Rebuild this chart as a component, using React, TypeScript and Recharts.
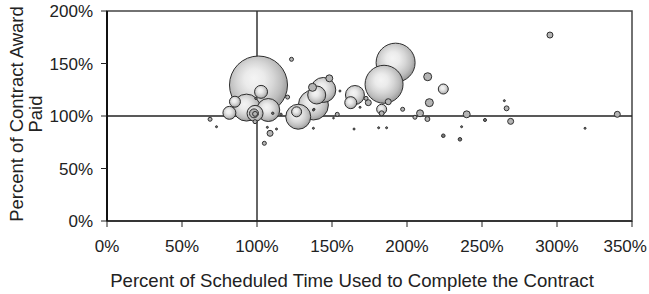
import React from 'react'
import {
  ScatterChart,
  Scatter,
  XAxis,
  YAxis,
  ZAxis,
  ReferenceLine,
  ReferenceArea,
  Label,
} from 'recharts'

// percent of scheduled time used
const timePct = [
  101, 192.4, 184.7, 137.6, 93, 144.2, 127.5, 107.5, 165.3, 139.8, 98.7, 81.6,
  102.7, 162.5, 85.3, 126.4, 224.2, 183.1, 98, 137, 213.8, 214.9, 148.2, 208.7,
  239.8, 295.3, 108.7, 174.2, 187.5, 269.1, 340.2, 266.4, 213.6, 98.7, 183.1,
  123, 104.9, 68.7, 98.7, 120.4, 172.7, 153.5, 197.1, 205.3, 224.2, 235.3, 252,
  73, 116, 110.5, 99.3, 113, 106.9, 137.6, 138, 155.3, 168.7, 137.6, 164.7,
  181.1, 186.4, 236.4, 318.7, 264.9, 151,
]

// percent of contract award paid
const paidPct = [
  129.5, 150.8, 130.2, 110.5, 108, 124.8, 99.3, 105.7, 120, 120, 102.5, 103,
  123, 112.7, 113.6, 104, 125.7, 106.4, 102.5, 127.3, 137.4, 112.7, 135.9,
  102.6, 101.6, 177.1, 83.5, 112.7, 113.6, 94.9, 101.6, 107.3, 97.1, 102,
  102.6, 154, 74, 96.9, 94.6, 118, 116.8, 101.6, 106.4, 98.8, 81.2, 77.8, 96.2,
  89.8, 101.6, 102.6, 116.8, 87.6, 89.2, 88.3, 106.4, 123.8, 108.3, 105.7,
  87.6, 88.8, 88.8, 89.8, 88.3, 114.6, 98,
]

// bubble size (relative contract award)
const awardSize = [
  841, 380, 361, 225, 182, 156, 156, 132, 90, 81, 64, 42, 42, 36, 30, 25, 25,
  25, 20, 16, 16, 16, 12, 12, 12, 9, 9, 9, 9, 9, 9, 6, 6, 6, 6, 4, 4, 4, 4, 4,
  4, 4, 4, 4, 3.2, 3.2, 2.3, 1, 1.4, 1.4, 1.4, 1, 1, 1, 1, 1, 1, 1, 1, 1, 1, 1,
  1, 1, 0.7,
]

const xTicks = [0, 50, 100, 150, 200, 250, 300, 350]
const yTicks = [0, 50, 100, 150, 200]

const data = timePct.map((x, i) => ({ x, y: paidPct[i], z: awardSize[i] }))

const FONT = '"Liberation Sans", Arial, sans-serif'
const MAX_Z = 900
const CHART_W = 649

const Bubble = (props: any) => {
  const { cx, cy, size } = props
  const r = Math.sqrt(size / Math.PI)
  return (
    <circle
      cx={cx}
      cy={cy}
      r={r}
      fill={r >= 5 ? 'url(#bubbleGrad)' : r >= 1.8 ? '#b4b4b4' : '#777'}
      stroke='#2e2e2e'
      strokeWidth={1}
    />
  )
}

// keep the last label inside the picture
const XTick = (props: any) => {
  const { x, y, payload } = props
  const label = `${payload.value}%`
  const half = label.length * 5.2
  const shift = Math.min(0, CHART_W - 3 - (x + half))
  return (
    <text
      x={x + shift}
      y={y}
      dy={12.5}
      textAnchor='middle'
      fill='#222'
      fontSize={17}
      fontFamily={FONT}
    >
      {label}
    </text>
  )
}

const YTitle = (props: any) => {
  const cy = props.viewBox.y + props.viewBox.height / 2 - 2
  return (
    <g fontFamily={FONT} fontSize={18.5} fill='#222'>
      <text x={23} y={cy} textAnchor='middle' transform={`rotate(-90 23 ${cy})`}>
        Percent of Contract Award
      </text>
      <text x={42} y={cy} textAnchor='middle' transform={`rotate(-90 42 ${cy})`}>
        Paid
      </text>
    </g>
  )
}

const XTitle = () => (
  <text x={352} y={287} textAnchor='middle' fontFamily={FONT} fontSize={18.6} fill='#222'>
    Percent of Scheduled Time Used to Complete the Contract
  </text>
)

export default function App() {
  return (
    <div style={{ position: 'absolute', left: 0, top: 0 }}>
      <ScatterChart
        width={CHART_W}
        height={294}
        margin={{ top: 11, right: 17, bottom: 0, left: 0 }}
      >
        <defs>
          <radialGradient id='bubbleGrad' cx='46%' cy='44%' r='58%' fx='42%' fy='38%'>
            <stop offset='0%' stopColor='#f4f4f4' />
            <stop offset='30%' stopColor='#ebebeb' />
            <stop offset='55%' stopColor='#d6d6d6' />
            <stop offset='78%' stopColor='#bdbdbd' />
            <stop offset='100%' stopColor='#959595' />
          </radialGradient>
        </defs>
        <XAxis
          type='number'
          dataKey='x'
          domain={[0, 350]}
          ticks={xTicks}
          height={73}
          tickSize={6}
          tickMargin={12}
          axisLine={{ stroke: '#222', strokeWidth: 1.5 }}
          tickLine={{ stroke: '#222' }}
          tick={<XTick />}
          label={<Label content={<XTitle />} />}
        />
        <YAxis
          type='number'
          dataKey='y'
          domain={[0, 200]}
          ticks={yTicks}
          tickFormatter={(v) => `${v}%`}
          width={107}
          tickSize={6}
          tickMargin={8}
          axisLine={{ stroke: '#111', strokeWidth: 2 }}
          tickLine={{ stroke: '#222' }}
          tick={{ fill: '#222', fontSize: 17, fontFamily: FONT }}
          label={<Label content={YTitle} />}
        />
        <ZAxis type='number' dataKey='z' domain={[0, MAX_Z]} range={[0, MAX_Z * Math.PI]} />
        <ReferenceArea
          x1={0}
          x2={350}
          y1={0}
          y2={200}
          fill='none'
          fillOpacity={0}
          stroke='#444'
          strokeWidth={1.5}
        />
        <ReferenceLine x={100} stroke='#333' strokeWidth={1.5} />
        <ReferenceLine y={100} stroke='#222' strokeWidth={1.5} />
        <Scatter
          data={data}
          shape={<Bubble />}
          isAnimationActive={false}
        />
      </ScatterChart>
    </div>
  )
}
